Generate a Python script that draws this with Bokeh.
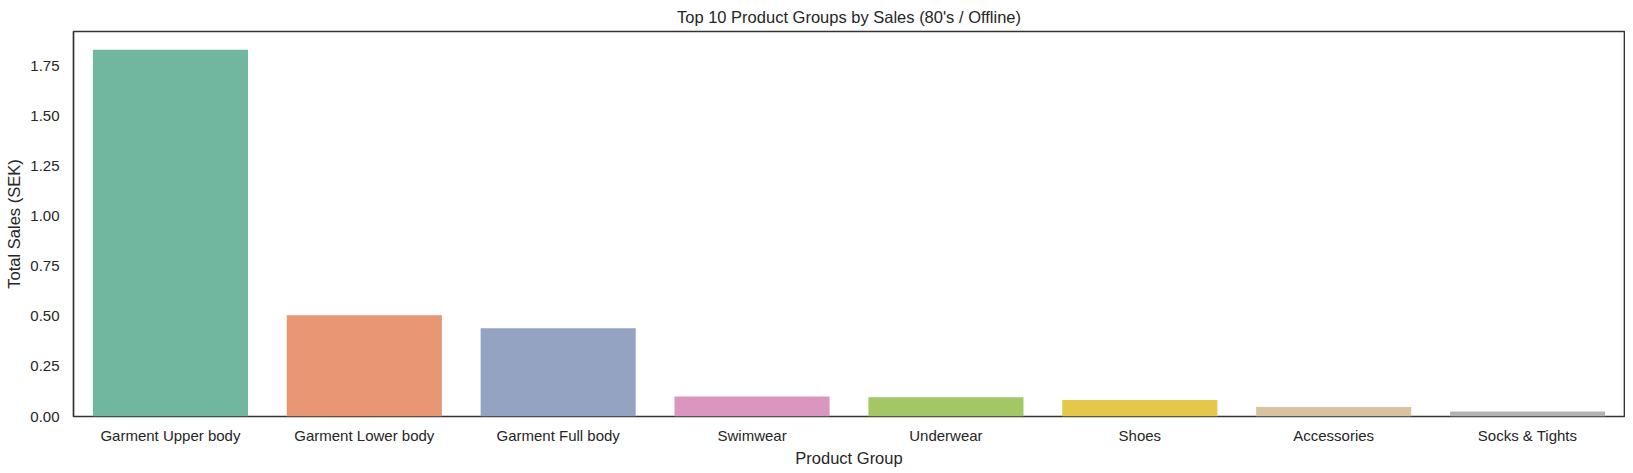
from bokeh.plotting import figure
from bokeh.models import ColumnDataSource, FactorRange, Range1d, FixedTicker, NumeralTickFormatter
from bokeh.embed import file_html
from bokeh.resources import INLINE

categories = ["Garment Upper body", "Garment Lower body", "Garment Full body", "Swimwear",
              "Underwear", "Shoes", "Accessories", "Socks & Tights"]
sales = [1.83, 0.505, 0.44, 0.10, 0.096, 0.082, 0.047, 0.025]
colors = ["#71b69f", "#e99675", "#95a3c3", "#db96c0", "#a2c764", "#e5c849", "#dbc29e", "#b3b3b3"]
y_ticks = [0.0, 0.25, 0.5, 0.75, 1.0, 1.25, 1.5, 1.75]

FONT = "Liberation Sans"
TXT = "#262626"

src = ColumnDataSource(dict(cat=categories, val=sales, col=colors))

p = figure(x_range=FactorRange(*categories), y_range=Range1d(0, max(sales) * 1.05),
           frame_width=1551, frame_height=385, output_backend="svg", toolbar_location=None,
           min_border_left=73, min_border_right=1, min_border_top=30, min_border_bottom=50,
           title="Top 10 Product Groups by Sales (80's / Offline)")

p.vbar(x="cat", top="val", width=0.8, fill_color="col", line_color=None, source=src)

p.title.align = "center"
p.title.text_font = FONT
p.title.text_font_size = "16.5px"
p.title.text_font_style = "normal"
p.title.text_color = TXT
p.title.text_line_height = 1.0
p.title.standoff = 11
p.title.offset = 0

p.outline_line_color = "#333333"
p.outline_line_width = 1.7
p.outline_line_alpha = 1.0
p.xgrid.grid_line_color = None
p.ygrid.grid_line_color = None

for ax in (p.xaxis[0], p.yaxis[0]):
    ax.axis_line_color = None
    ax.major_tick_line_color = None
    ax.minor_tick_line_color = None
    ax.major_tick_out = 0
    ax.major_tick_in = 0
    ax.major_label_text_font = FONT
    ax.major_label_text_font_size = "15px"
    ax.major_label_text_color = TXT
    ax.axis_label_text_font = FONT
    ax.axis_label_text_font_size = "16.5px"
    ax.axis_label_text_font_style = "normal"
    ax.axis_label_text_color = TXT

p.xaxis.axis_label = "Product Group"
p.yaxis.axis_label = "Total Sales (SEK)"
p.xaxis.major_label_standoff = 10
p.xaxis.axis_label_standoff = 2
p.yaxis.major_label_standoff = 14
p.yaxis.axis_label_standoff = 4
p.yaxis.ticker = FixedTicker(ticks=y_ticks)
p.yaxis.formatter = NumeralTickFormatter(format="0.00")

open("out.html", "w").write(file_html(p, INLINE))
